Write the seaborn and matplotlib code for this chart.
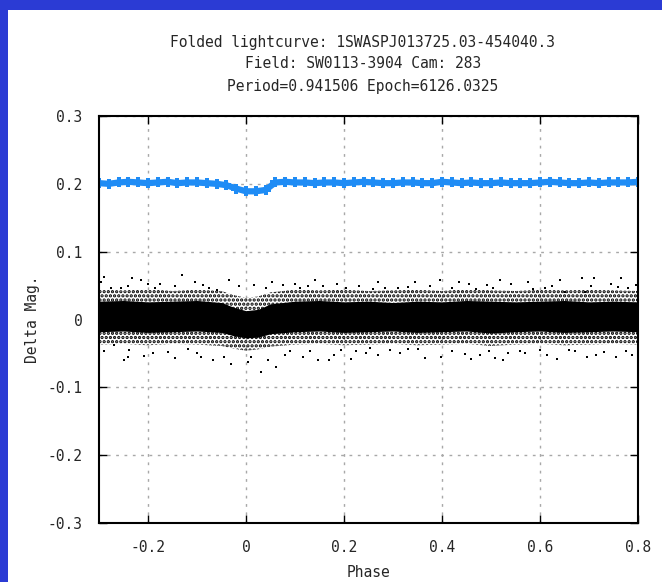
import numpy as np
import pandas as pd
import matplotlib
matplotlib.use("Agg")
import matplotlib.pyplot as plt
import seaborn as sns
from matplotlib.patches import Rectangle


# binned lightcurve (offset +0.2 in the plot)
bin_phase = [-0.30, -0.28, -0.26, -0.24, -0.22, -0.20, -0.18, -0.16, -0.14, -0.12,
             -0.10, -0.08, -0.06, -0.04, -0.02, 0.00, 0.02, 0.04, 0.06, 0.08,
             0.10, 0.12, 0.14, 0.16, 0.18, 0.20, 0.22, 0.24, 0.26, 0.28,
             0.30, 0.32, 0.34, 0.36, 0.38, 0.40, 0.42, 0.44, 0.46, 0.48,
             0.50, 0.52, 0.54, 0.56, 0.58, 0.60, 0.62, 0.64, 0.66, 0.68,
             0.70, 0.72, 0.74, 0.76, 0.78, 0.80]
bin_mag = [0.201, 0.200, 0.202, 0.203, 0.202, 0.201, 0.202, 0.203, 0.201, 0.202,
           0.202, 0.201, 0.200, 0.198, 0.193, 0.189, 0.189, 0.191, 0.202, 0.203,
           0.202, 0.202, 0.201, 0.202, 0.202, 0.201, 0.202, 0.203, 0.202, 0.201,
           0.201, 0.202, 0.202, 0.201, 0.201, 0.203, 0.202, 0.201, 0.202, 0.201,
           0.201, 0.202, 0.201, 0.201, 0.201, 0.202, 0.203, 0.202, 0.201, 0.201,
           0.202, 0.201, 0.202, 0.202, 0.202, 0.203]

# envelope of the dense unbinned data
env_phase = [-0.30, -0.25, -0.20, -0.15, -0.10, -0.05, -0.025, 0.0, 0.025, 0.05,
             0.10, 0.15, 0.20, 0.25, 0.30, 0.35, 0.40, 0.45, 0.50, 0.55,
             0.60, 0.65, 0.70, 0.75, 0.80]
core_hi = [0.027, 0.028, 0.026, 0.027, 0.028, 0.025, 0.018, 0.013, 0.015, 0.023,
           0.027, 0.028, 0.026, 0.027, 0.025, 0.027, 0.026, 0.028, 0.027, 0.026,
           0.027, 0.028, 0.026, 0.027, 0.026]
core_lo = [-0.018, -0.017, -0.019, -0.018, -0.017, -0.019, -0.024, -0.027, -0.026, -0.021,
           -0.018, -0.017, -0.019, -0.018, -0.017, -0.019, -0.018, -0.017, -0.020, -0.018,
           -0.017, -0.019, -0.018, -0.017, -0.018]
fringe_hi = [0.044, 0.043, 0.045, 0.042, 0.044, 0.042, 0.036, 0.032, 0.034, 0.040,
             0.044, 0.043, 0.044, 0.042, 0.043, 0.044, 0.042, 0.045, 0.043, 0.042,
             0.044, 0.043, 0.044, 0.043, 0.042]
fringe_lo = [-0.037, -0.036, -0.038, -0.036, -0.037, -0.039, -0.043, -0.046, -0.044, -0.040,
             -0.037, -0.036, -0.038, -0.037, -0.036, -0.038, -0.037, -0.036, -0.039, -0.037,
             -0.036, -0.038, -0.037, -0.036, -0.037]

# sparse outlying points
out_phase = [-0.289, -0.233, -0.131, -0.201, -0.175, -0.241, -0.088, -0.014, 0.017, 0.054,
             0.075, 0.126, 0.157, -0.241, -0.208, -0.238, -0.119, -0.091, -0.068, -0.044,
             0.031, 0.061, 0.116, 0.146, 0.170, 0.194, 0.224, -0.269, 0.685, 0.711,
             0.765, 0.519, 0.435, 0.396, 0.284, 0.260, 0.491, 0.624, 0.651, 0.692,
             0.760, 0.795, 0.253, 0.294, 0.331, 0.352, 0.398, 0.447, 0.478, 0.508,
             0.535, 0.600, 0.614, 0.671, 0.695, 0.756, 0.787, -0.160, 0.005, 0.110,
             0.205, 0.330, 0.560, 0.470, -0.275, 0.245, 0.585, 0.730, -0.060, 0.090,
             -0.295, -0.255, -0.215, -0.185, -0.145, -0.105, -0.075, -0.035, 0.040, 0.100,
             0.140, 0.185, 0.230, 0.270, 0.310, 0.345, 0.375, 0.420, 0.455, 0.505,
             0.540, 0.575, 0.610, 0.640, 0.705, 0.745, 0.780,
             -0.290, -0.250, -0.190, -0.145, -0.100, -0.030, 0.010, 0.045, 0.080, 0.130,
             0.180, 0.215, 0.270, 0.315, 0.365, 0.420, 0.460, 0.495, 0.525, 0.570,
             0.635, 0.660, 0.715, 0.775, 0.799]
out_mag = [0.062, 0.061, 0.066, 0.053, 0.053, 0.049, 0.051, 0.049, 0.051, 0.056,
           0.051, 0.049, 0.049, -0.056, -0.054, -0.045, -0.044, -0.055, -0.059, -0.056,
           -0.077, -0.070, -0.055, -0.059, -0.060, -0.045, -0.047, -0.038, 0.061, 0.061,
           0.061, 0.058, 0.056, 0.058, 0.046, 0.045, 0.051, 0.049, 0.041, 0.041,
           0.048, 0.051, -0.042, -0.045, -0.044, -0.044, -0.055, -0.051, -0.052, -0.057,
           -0.049, -0.045, -0.052, -0.047, -0.056, -0.055, -0.052, -0.048, -0.062, 0.046,
           0.047, 0.048, -0.046, 0.045, 0.047, -0.050, 0.045, -0.048, 0.044, -0.047,
           0.055, 0.047, 0.058, 0.047, 0.050, 0.055, 0.047, 0.058, 0.047, 0.053,
           0.058, 0.052, 0.050, 0.055, 0.047, 0.055, 0.050, 0.047, 0.053, 0.047,
           0.052, 0.055, 0.047, 0.058, 0.049, 0.053, 0.047,
           -0.047, -0.060, -0.050, -0.057, -0.049, -0.065, -0.055, -0.060, -0.052, -0.046,
           -0.052, -0.058, -0.053, -0.050, -0.057, -0.047, -0.058, -0.046, -0.060, -0.050,
           -0.058, -0.045, -0.052, -0.046, -0.058]

x_ticks = [-0.2, 0, 0.2, 0.4, 0.6, 0.8]
y_ticks = [-0.3, -0.2, -0.1, 0, 0.1, 0.2, 0.3]

title_lines = ["Folded lightcurve: 1SWASPJ013725.03-454040.3",
               "Field: SW0113-3904 Cam: 283",
               "Period=0.941506 Epoch=6126.0325"]


sns.set_style("white")
plt.rcParams["font.family"] = ["DejaVu Sans Mono", "DejaVu Sans"]
plt.rcParams["font.size"] = 10.5
plt.rcParams["hatch.linewidth"] = 1.6

fig = plt.figure(figsize=(6.62, 5.82), dpi=100, facecolor="#2b3bd4")
fig.patches.append(Rectangle((7.5 / 662, 0), 1, 1 - 9.5 / 582, transform=fig.transFigure,
                             facecolor="white", edgecolor="none", zorder=-10))

ax = fig.add_axes([99 / 662, 1 - 523 / 582, 539 / 662, 407 / 582])
ax.set_facecolor("white")

# unbinned data
ax.fill_between(env_phase, fringe_lo, fringe_hi, facecolor="none", edgecolor="black",
                hatch="....", linewidth=0, zorder=2)
ax.fill_between(env_phase, core_lo, core_hi, color="black", linewidth=0, zorder=3)
outliers = pd.DataFrame({"phase": out_phase, "mag": out_mag})
sns.scatterplot(data=outliers, x="phase", y="mag", ax=ax, color="black", marker="s",
                s=4, linewidth=0, zorder=3)

# binned data
binned = pd.DataFrame({"phase": bin_phase, "mag": bin_mag})
sns.lineplot(data=binned, x="phase", y="mag", ax=ax, color="#1f8cf5", linewidth=4.5,
             marker="P", markersize=7, markeredgewidth=0, zorder=4)

ax.set_xlim(-0.3, 0.8)
ax.set_ylim(-0.3, 0.3)
ax.set_xticks(x_ticks)
ax.set_xticklabels(["-0.2", "0", "0.2", "0.4", "0.6", "0.8"])
ax.set_yticks(y_ticks)
ax.set_yticklabels(["-0.3", "-0.2", "-0.1", "0", "0.1", "0.2", "0.3"])
ax.grid(True, color="#a8a8a8", linestyle=(0, (2, 4)), linewidth=1)
ax.tick_params(direction="in", length=6, width=1, color="black", top=True, right=True,
               bottom=True, left=True, pad=12)
for sp in ax.spines.values():
    sp.set_color("black")
    sp.set_linewidth(1.5)
    sp.set_zorder(5)

ax.set_xlabel("Phase")
ax.set_ylabel("Delta Mag.")
ax.xaxis.set_label_coords((368 - 99) / 539, (523 - 565) / 407)
ax.yaxis.set_label_coords((40 - 99) / 539, 0.5)

for i, line in enumerate(title_lines):
    fig.text(363 / 662, 1 - (42 + 22 * i) / 582, line, ha="center", va="center")

fig.savefig("out.png", dpi=100, facecolor=fig.get_facecolor())
